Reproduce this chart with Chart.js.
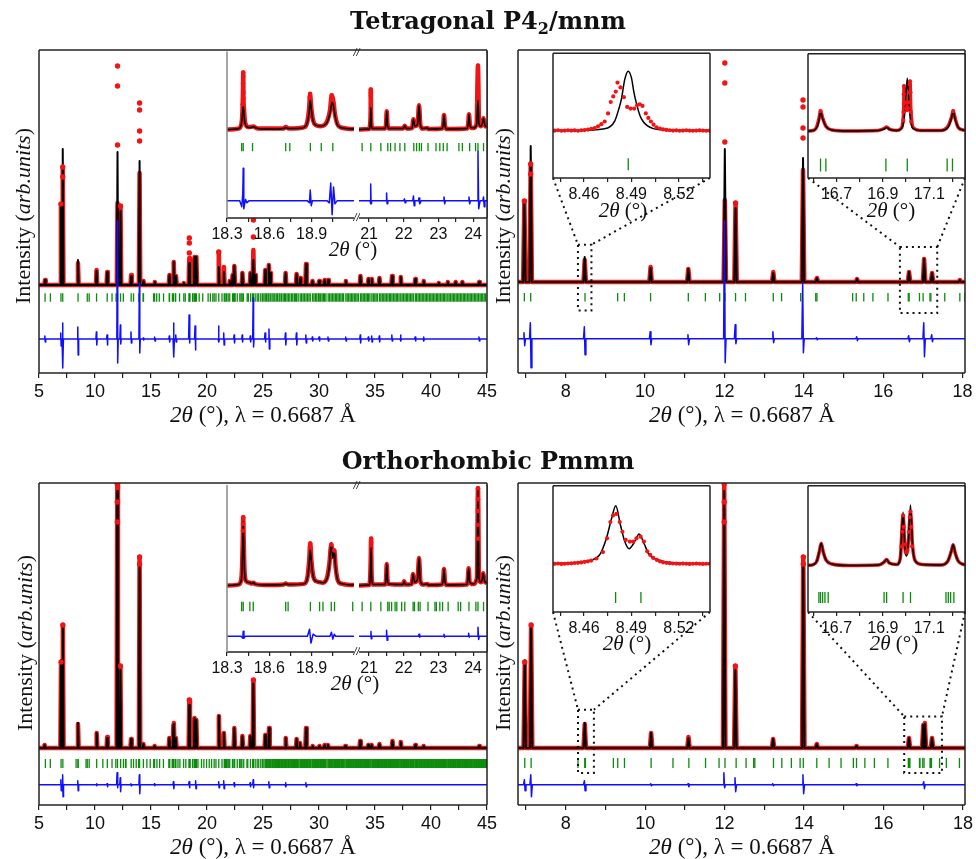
<!DOCTYPE html>
<html>
<head>
<meta charset="utf-8">
<script src="https://cdn.jsdelivr.net/npm/chart.js@4.4.1/dist/chart.umd.min.js"></script>
<style>
  body { margin: 0; background: #fff; }
  #fig { position: relative; width: 976px; height: 859px; overflow: hidden; background: #fff; font-family: "Liberation Serif", serif; color: #111; }
  #fig canvas { position: absolute; }
  .lbl { position: absolute; white-space: nowrap; transform: translate(-50%, -50%); line-height: 1; }
  .ttl { font-family: "DejaVu Serif", serif; font-weight: bold; font-size: 24px; }
  .ax { font-size: 23px; }
  .ay { font-size: 22px; }
  .axs { font-size: 21px; }
  .rot { transform: translate(-50%, -50%) rotate(-90deg); }
</style>
</head>
<body>
<div id="fig"></div>
<script>
// ---------- data (intensity in arb. units) ----------
// peaks: [2theta, calculated height, observed height]
const tetraPeaks = [
  [5.54,5,5],[6.96,80,81],[7.12,136,118],[8.48,25,22],[10.14,14,15],[11.09,13,13],
  [12.01,133,82],[12.28,74,79],[13.23,9,10],[13.98,124,112],[14.33,4,4],[15.34,3,3],
  [16.65,10,10],[17.03,23,23],[17.23,9,9],[17.93,2,2],[18.42,22,27],[18.89,28,28],
  [19.05,28,28],[21.05,18,33],[21.51,13,18],[22.03,4,4],[22.29,10,10],[22.44,19,19],
  [23.16,12,12],[23.88,12,12],[24.14,25,35],[24.30,10,10],[25.20,15,15],[25.52,20,20],
  [25.65,12,12],[27.02,12,12],[28.00,11,11],[28.32,7,7],[28.84,21,21],[29.42,4,4],
  [30.02,4,4],[30.50,5,5],[30.82,5,5],[32.40,4,4],[33.70,9,9],[34.42,6,6],[34.72,6,6],
  [35.40,7,7],[36.52,9,9],[37.30,8,8],[38.60,6,6],[39.35,4,4],[40.70,2,2],[41.50,3,3],
  [42.20,3,3],[42.80,3,3],[44.30,3,3]
];
const tetraDots = [
  [6.96,81],[7.12,118],[7.12,108],[12.01,140],[12.01,199],[12.01,219],[12.28,79],
  [13.98,144],[13.98,154],[13.98,175],[13.98,182],[18.42,32],[18.42,42],[18.42,47],
  [21.05,33],[24.14,48],[24.14,65]
];
// difference: [2theta, up, down]
const tetraDiff = [
  [5.54,3,3],[6.96,6,7],[7.12,16,29],[8.48,12,16],[10.14,7,6],[11.09,4,6],[12.01,118,24],
  [12.28,14,5],[13.23,7,4],[13.98,56,14],[14.33,1,1],[15.34,2,2],[16.65,3,3],[17.03,16,18],
  [17.23,4,3],[18.42,24,4],[18.95,13,11],[21.05,13,3],[21.51,6,6],[22.44,4,4],[23.16,4,3],
  [23.88,3,3],[24.14,41,8],[25.20,6,3],[25.55,10,10],[27.02,6,6],[28.00,6,6],[28.84,4,4],
  [29.42,2,2],[30.02,2,2],[30.82,2,2],[32.40,2,2],[33.70,4,4],[34.42,2,2],[34.72,3,3],
  [35.40,3,3],[36.52,4,2],[37.30,4,2],[38.60,2,2],[39.35,2,2],[44.30,2,2]
];
const orthoPeaks = [
  [5.50,3,3],[6.97,88,86],[7.13,122,123],[8.48,25,24],[10.15,15,15],[11.09,10,11],
  [11.99,257,264],[12.27,78,82],[13.22,9,9],[13.98,183,191],[14.32,4,4],[15.32,2,2],
  [16.64,10,10],[17.00,23,23],[17.04,24,25],[17.22,10,10],[18.42,43,48],[18.89,30,30],
  [19.05,28,28],[21.06,32,32],[21.51,15,15],[22.44,20,20],[23.16,12,12],[23.87,12,12],
  [24.14,65,68],[25.20,13,13],[25.54,20,20],[27.03,10,10],[28.00,9,9],[28.30,5,5],
  [28.84,20,20],[29.44,2,2],[30.04,2,2],[30.50,3,3],[30.80,3,3],[32.35,2,2],[33.67,7,7],
  [34.40,3,3],[34.70,3,3],[35.40,4,4],[36.56,7,7],[37.30,6,6],[38.60,3,3],[39.34,2,2],
  [44.30,2,2]
];
const orthoDots = [
  [6.97,86],[7.13,123],[11.99,264],[11.99,246],[11.99,226],[12.27,82],[13.98,191],
  [13.98,184],[18.42,48],[24.14,68]
];
const orthoDiff = [
  [6.97,5,6],[7.13,10,12],[8.48,4,6],[10.15,1,1],[11.09,1,2],[11.99,12,3],[12.27,7,7],
  [13.22,1,1],[13.98,10,9],[15.32,1,1],[17.02,3,4],[18.42,3,3],[19.00,4,4],[21.06,3,3],
  [21.51,4,4],[22.44,2,2],[23.87,2,2],[24.14,5,3],[25.54,3,3],[27.03,2,2],[28.84,2,2]
];

// reflection markers (2theta)
const tetraTicksLow = [5.54,6.02,6.96,7.12,8.488,9.31,9.48,10.14,11.09,11.52,11.88,12.01,12.28,12.53,
  13.23,13.44,13.92,14.30,14.33,15.23,15.32,15.51,15.74,16.12,16.631,16.654,16.913,17.005,17.177,
  17.200,17.55,17.93,18.06];
const tetraTicksMid = [18.404,18.415,18.481,18.716,18.745,18.891,18.968,19.05,19.30,19.62,20.10,20.30,
  20.52,20.64,20.80,21.05,21.34,21.54,21.62,21.75,21.89,22.03,22.29,22.37,22.45,22.51,22.70,22.93,
  23.04,23.14,23.25,23.59,23.69,23.90,24.07,24.14,24.30,24.48,24.62,24.80,24.95,25.08];
const tetraTicksHigh = [25.20,25.32,25.45,25.52,25.65,25.80,25.91,26.05,26.18,26.30,26.44,26.52,26.66,
  26.80,26.93,27.02,27.15,27.28,27.40,27.55,27.66,27.80,27.92,28.00,28.14,28.32,28.45,28.58,28.70,
  28.84,28.96,29.10,29.22,29.42,29.55,29.68,29.80,29.94,30.02,30.15,30.28,30.40,30.50,30.62,30.82,
  30.95,31.08,31.20,31.33,31.46,31.58,31.70,31.82,31.95,32.08,32.20,32.40,32.52,32.65,32.78,32.90,
  33.02,33.15,33.28,33.40,33.52,33.70,33.82,33.95,34.08,34.20,34.32,34.42,34.55,34.72,34.85,34.98,
  35.10,35.22,35.40,35.52,35.65,35.78,35.90,36.02,36.15,36.28,36.40,36.52,36.65,36.78,36.90,37.02,
  37.15,37.30,37.42,37.55,37.68,37.80,37.92,38.05,38.18,38.30,38.42,38.60,38.72,38.85,38.98,39.10,
  39.22,39.35,39.48,39.60,39.72,39.85,39.98,40.10,40.22,40.35,40.48,40.60,40.72,40.85,40.98,41.10,
  41.22,41.35,41.50,41.62,41.75,41.88,42.00,42.12,42.25,42.38,42.50,42.62,42.75,42.88,43.00,43.12,
  43.25,43.38,43.50,43.62,43.75,43.88,44.00,44.12,44.25,44.38,44.50,44.62,44.75,44.88];
const orthoTicksLow = [5.57,6.01,6.97,7.13,8.31,8.480,8.496,9.20,9.31,9.48,10.15,10.70,11.10,11.52,
  11.86,12.01,12.29,12.54,12.73,12.76,13.23,13.44,13.68,13.90,13.98,14.32,14.63,14.93,15.24,15.32,
  15.53,15.77,16.11,16.624,16.631,16.640,16.650,16.664,16.905,16.916,16.987,17.019,17.172,17.182,
  17.192,17.206,17.41,17.58,17.91,18.11];
const orthoTicksMid = [18.404,18.415,18.462,18.486,18.716,18.733,18.891,18.956,18.980,19.039,19.062,
  19.191,19.51,19.72,19.96,20.20,20.41,20.64,20.80,21.05,21.34,21.54,21.58,21.65,21.75,21.80,21.94,
  22.03,22.27,22.31,22.42,22.47,22.70,22.90,22.94,23.04,23.12,23.28,23.57,23.64,23.88,24.08,24.14,
  24.30,24.48,24.62,24.80,24.95,25.08];
const orthoTicksExtra = [25.26,25.38,25.58,25.72,25.86,25.98,26.12,26.24,26.37,26.48,26.59,26.73,26.87,
  26.98,27.08,27.22,27.34,27.48,27.60,27.73,27.86,27.96,28.07,28.22,28.38,28.52,28.64,28.77,28.90,
  29.03,29.16,29.30,29.48,29.62,29.74,29.87,30.08,30.22,30.34,30.45,30.56,30.72,30.88,31.02,31.14,
  31.26,31.40,31.52,31.64,31.76,31.88,32.02,32.14,32.30,32.46,32.58,32.72,32.84,32.96,33.08,33.22,
  33.34,33.46,33.60,33.76,33.88,34.02,34.14,34.26,34.37,34.48,34.62,34.78,34.92,35.04,35.16,35.30,
  35.46,35.58,35.72,35.84,35.96,36.08,36.22,36.34,36.46,36.58,36.72,36.84,36.96,37.08,37.22,37.36,
  37.48,37.62,37.74,37.86,37.98,38.12,38.24,38.36,38.50,38.66,38.78,38.92,39.04,39.16,39.28,39.42,
  39.54,39.66,39.78,39.92,40.04,40.16,40.28,40.42,40.54,40.66,40.78,40.92,41.04,41.16,41.28,41.42,
  41.56,41.68,41.82,41.94,42.06,42.18,42.32,42.44,42.56,42.68,42.82,42.94,43.06,43.18,43.32,43.44,
  43.56,43.68,43.82,43.94,44.06,44.18,44.32,44.44,44.56,44.68,44.82,44.94];

// inset profiles [2theta, intensity]
const tetraInL_calc = [[18.30,0.5],[18.36,1],[18.39,2],[18.40,5],[18.407,11],[18.412,20],[18.415,24],[18.419,19],
  [18.424,10],[18.432,5],[18.445,3],[18.47,2.5],[18.486,3.5],[18.50,2.5],[18.55,1],[18.65,1],[18.70,1.5],
  [18.716,2.5],[18.735,1.5],[18.80,1.5],[18.85,3],[18.87,8],[18.882,18],[18.89,30],[18.898,20],[18.91,9],
  [18.93,5],[18.96,4],[18.99,5],[19.01,8],[19.03,17],[19.045,28],[19.055,24],[19.065,15],[19.08,6],
  [19.10,3],[19.15,1.5],[19.2,1]];
const tetraInL_obs = [[18.30,0.5],[18.38,1.5],[18.40,5],[18.407,12],[18.411,26],[18.413,38],[18.415,58],
  [18.417,32],[18.421,20],[18.427,9],[18.435,5],[18.45,3],[18.486,3.5],[18.52,1.5],[18.70,1.5],[18.716,3],
  [18.74,1.5],[18.85,3],[18.87,9],[18.882,22],[18.889,36],[18.896,24],[18.91,10],[18.93,5],[18.96,4],
  [18.99,5],[19.01,9],[19.03,20],[19.042,35],[19.055,28],[19.065,16],[19.08,7],[19.10,3],[19.2,1]];
const tetraInL_dots = [[18.415,58],[18.415,54],[18.414,47],[18.416,38],[18.416,32],[18.412,26],
  [18.889,36.6],[18.887,33],[19.042,35],[19.046,31]];
const tetraInL_diff = [[18.3,0],[18.39,0],[18.405,-6],[18.412,8],[18.415,33],[18.419,-8],[18.425,-3],
  [18.432,1.5],[18.44,-2],[18.455,0],[18.87,0],[18.884,-2],[18.89,11],[18.897,-5],[18.905,0],[19.01,0],
  [19.025,-2],[19.035,18],[19.045,-14],[19.055,14],[19.065,-3],[19.08,0],[19.2,0]];
const tetraInR_calc = [[20.70,0.5],[21.0,1],[21.03,5],[21.045,14],[21.05,22.6],[21.058,12],[21.07,4],
  [21.1,1.5],[21.45,1.5],[21.49,6],[21.51,19],[21.53,6],[21.57,1.5],[21.98,1.5],[22.03,4.3],[22.08,1.5],
  [22.24,2],[22.28,11],[22.32,4],[22.40,6],[22.44,25],[22.48,5],[22.55,1.5],[22.68,2],[22.72,1],[23.1,1.5],
  [23.14,6],[23.16,15.3],[23.19,4],[23.25,1],[23.82,1.5],[23.86,7],[23.88,16],[23.91,4],[24.0,2],
  [24.1,5],[24.14,30],[24.17,6],[24.22,4],[24.26,6],[24.30,12],[24.34,5],[24.4,3]];
const tetraInR_obs = [[20.70,0.5],[21.0,1],[21.03,6],[21.045,20],[21.05,41],[21.056,20],[21.07,5],
  [21.1,1.5],[21.45,1.5],[21.49,6],[21.51,19],[21.53,6],[21.57,1.5],[21.98,1.5],[22.03,4.3],[22.08,1.5],
  [22.24,2],[22.28,11],[22.32,4],[22.40,6],[22.44,25],[22.48,5],[22.55,1.5],[22.68,2],[22.72,1],[23.1,1.5],
  [23.14,6],[23.16,15.3],[23.19,4],[23.25,1],[23.82,1.5],[23.86,7],[23.88,16],[23.91,4],[24.0,2],
  [24.1,6],[24.14,65],[24.17,8],[24.22,4],[24.26,6],[24.30,12],[24.34,5],[24.4,3]];
const tetraInR_dots = [[21.05,41],[21.05,38],[21.05,35],[24.14,65],[24.14,44],[24.14,40]];
const tetraInR_diff = [[20.7,0],[21.03,0],[21.045,-3],[21.05,17],[21.058,-3],[21.07,0],[21.49,0],
  [21.505,8],[21.52,-3],[21.54,0],[22.0,0],[22.02,2],[22.04,-2],[22.06,0],[22.26,0],[22.28,5],
  [22.30,-5],[22.32,0],[22.42,0],[22.44,3],[22.46,-3],[22.5,0],[23.14,0],[23.16,4],[23.18,-3],[23.2,0],
  [23.86,0],[23.88,4],[23.9,-3],[23.92,0],[24.12,0],[24.14,50],[24.16,-8],[24.2,0],[24.28,0],[24.30,4],
  [24.32,-6],[24.34,0],[24.4,0]];

const orthoInL_calc = [[18.30,0.5],[18.38,1.5],[18.40,5],[18.407,18],[18.412,45],[18.415,65.7],[18.419,40],
  [18.424,15],[18.432,6],[18.445,4],[18.462,3.5],[18.475,2.5],[18.486,3.5],[18.50,2],[18.6,1],[18.70,1.5],
  [18.716,2.5],[18.735,1.5],[18.85,2.5],[18.87,8],[18.882,22],[18.89,37.3],[18.898,24],[18.91,10],
  [18.93,5],[18.98,3.5],[19.01,8],[19.025,20],[19.039,44],[19.05,28],[19.06,37],[19.07,18],[19.085,6],
  [19.11,2.5],[19.2,1]];
const orthoInL_obs = [[18.30,0.5],[18.38,1.5],[18.40,6],[18.407,20],[18.412,50],[18.415,69.7],[18.419,42],
  [18.424,16],[18.432,6],[18.445,4],[18.462,3.5],[18.475,2.5],[18.486,3.5],[18.50,2],[18.6,1],[18.70,1.5],
  [18.716,2.5],[18.735,1.5],[18.85,2.5],[18.87,9],[18.882,25],[18.89,43],[18.898,26],[18.91,11],
  [18.93,5],[18.98,3.5],[19.01,9],[19.025,22],[19.039,42],[19.05,30],[19.06,36],[19.07,19],[19.085,6],
  [19.11,2.5],[19.2,1]];
const orthoInL_dots = [[18.415,69.7],[18.414,63],[18.413,56],[18.89,43],[18.889,39],[19.039,42],[19.06,36]];
const orthoInL_diff = [[18.3,0],[18.40,0],[18.412,-2],[18.415,5],[18.42,-2],[18.43,0],[18.87,0],
  [18.885,7],[18.895,-7],[18.91,2],[18.93,0],[19.03,0],[19.04,4],[19.05,-3],[19.06,2],[19.07,0],[19.2,0]];
const orthoInR_calc = [[20.7,0.5],[21.0,1],[21.03,6],[21.045,20],[21.06,39],[21.07,15],[21.09,4],
  [21.12,1.5],[21.45,1.5],[21.49,7],[21.51,22.3],[21.53,7],[21.57,2],[21.98,1.5],[22.01,5],[22.05,1.5],
  [22.23,2],[22.27,12.3],[22.31,4],[22.40,7],[22.44,28.3],[22.48,5],[22.55,1.5],[22.68,2],[22.72,1],
  [23.1,1.5],[23.14,7],[23.16,17.3],[23.19,4],[23.25,1],[23.82,1.5],[23.85,8],[23.87,18],[23.90,4],
  [24.0,2],[24.11,8],[24.14,99],[24.17,8],[24.22,4],[24.26,6],[24.29,13],[24.33,5],[24.4,3]];
const orthoInR_obs = [[20.7,0.5],[21.0,1],[21.03,7],[21.045,24],[21.06,48],[21.07,17],[21.09,4],
  [21.12,1.5],[21.45,1.5],[21.49,7],[21.51,22.3],[21.53,7],[21.57,2],[21.98,1.5],[22.01,5],[22.05,1.5],
  [22.23,2],[22.27,12.3],[22.31,4],[22.40,7],[22.44,28.3],[22.48,5],[22.55,1.5],[22.68,2],[22.72,1],
  [23.1,1.5],[23.14,7],[23.16,17.3],[23.19,4],[23.25,1],[23.82,1.5],[23.85,8],[23.87,18],[23.90,4],
  [24.0,2],[24.11,8],[24.14,99],[24.17,8],[24.22,4],[24.26,6],[24.29,13],[24.33,5],[24.4,3]];
const orthoInR_dots = [[21.06,48],[21.06,44],[24.14,99],[24.14,88],[24.14,76],[24.14,62],[24.14,48]];
const orthoInR_diff = [[20.7,0],[21.04,0],[21.055,4.7],[21.065,-2.7],[21.08,0],[21.49,0],[21.505,6],
  [21.52,-4],[21.54,0],[22.42,0],[22.44,2],[22.46,-1],[22.48,0],[23.14,0],[23.16,2],[23.18,-1],[23.2,0],
  [23.86,0],[23.87,3],[23.89,-1],[23.91,0],[24.12,0],[24.14,9],[24.16,-3.3],[24.18,0],[24.4,0]];

// zoom insets around 8.49 and 17.0
const tetraZoomA_calc = [[8.4404,0],[8.465,0.5],[8.472,1.5],[8.4765,4],[8.4795,10],[8.482,22],[8.4837,32.6],
  [8.4858,52.6],[8.4879,61],[8.4900,54.3],[8.4915,40],[8.4932,27.6],[8.4955,15],[8.4974,9.3],[8.500,5],
  [8.5038,2],[8.51,0.8],[8.5397,0]];
const tetraZoomA_obs = [[8.4415,0],[8.4436,0.3],[8.4457,-0.2],[8.4478,0],[8.4499,0.3],[8.452,0],[8.4541,0.2],
  [8.4562,-0.2],[8.4583,0.3],[8.4604,0.5],[8.4625,1],[8.4646,1.8],[8.4668,2.5],[8.4689,4.3],[8.471,6.6],
  [8.4731,9.3],[8.4752,17.6],[8.4769,29.3],[8.4785,35],[8.4801,40],[8.4812,49.3],[8.4831,44.3],
  [8.4852,34.3],[8.4873,24.3],[8.4894,22.6],[8.4917,22.6],[8.4936,26],[8.4953,27],[8.497,25.3],
  [8.4991,17.6],[8.5007,13],[8.5023,9.3],[8.504,6],[8.5059,3.3],[8.508,2],[8.510,1.2],[8.5121,0.6],
  [8.5142,0.3],[8.5163,0],[8.5184,0.2],[8.5205,-0.2],[8.5226,0],[8.5247,0.3],[8.5268,0],[8.5289,-0.2],
  [8.531,0],[8.5331,0.2],[8.5352,0],[8.5373,-0.2],[8.5394,0]];
const tetraZoomB_calc = [[16.577,0.5],[16.60,1],[16.615,4],[16.625,12],[16.631,20.7],[16.64,13],[16.655,5],
  [16.68,1.5],[16.75,0.5],[16.88,1],[16.905,2.5],[16.916,4],[16.93,2],[16.96,1],[16.98,3],[16.99,10],
  [16.998,30],[17.005,55],[17.012,30],[17.02,10],[17.03,3],[17.06,1],[17.15,1],[17.18,4],[17.195,13],
  [17.203,20.7],[17.212,12],[17.225,4],[17.254,1]];
const tetraZoomB_obs = [[16.577,0.5],[16.60,1],[16.615,5],[16.625,14],[16.631,21],[16.64,14],[16.655,5],
  [16.68,1.5],[16.75,0.5],[16.88,1],[16.905,3],[16.916,4.5],[16.93,2],[16.96,1],[16.978,3],[16.985,8],
  [16.99,28],[16.991,46.7],[16.995,32],[17.0,23],[17.005,22],[17.01,28],[17.014,42],[17.017,51.7],
  [17.02,25],[17.025,9],[17.035,3],[17.06,1],[17.15,1],[17.18,5],[17.195,14],[17.203,21],[17.212,13],
  [17.225,4],[17.254,1]];
const tetraZoomB_dots = [[16.988,11.7],[16.989,20],[16.99,28.3],[16.99,38.3],[16.991,46.7],[16.996,30],
  [17.0,24],[17.004,22],[17.008,24],[17.012,30],[17.014,40],[17.016,48.3],[17.017,51.7],[17.019,40],
  [17.02,20],[17.022,10],[16.631,21],[17.203,21]];
const orthoZoomA_calc = [[8.4404,0],[8.453,1],[8.4636,3.3],[8.470,9.3],[8.4742,26],[8.4774,46],[8.4801,59.4],
  [8.4831,39.4],[8.4858,22.7],[8.4885,15.4],[8.4915,21],[8.4949,30.4],[8.4979,21],[8.5012,9.3],
  [8.5059,4.4],[8.5164,1],[8.5397,0]];
const orthoZoomA_obs = [[8.4415,0],[8.4436,0.3],[8.4457,-0.2],[8.4478,0],[8.4499,0.3],[8.452,0.5],
  [8.4541,0.8],[8.4562,1],[8.4583,1.4],[8.4604,2],[8.4625,2.5],[8.4646,3.3],[8.4679,5.4],[8.472,12],
  [8.4746,26],[8.4767,42.7],[8.4784,49.4],[8.4805,51],[8.4826,42.7],[8.4843,32.7],[8.4864,24.4],
  [8.489,22.7],[8.4911,22.7],[8.4932,26],[8.4958,27.7],[8.4979,22.7],[8.5,12.7],[8.5019,9],[8.5038,6],
  [8.506,4],[8.508,2.5],[8.510,1.5],[8.5121,1],[8.5142,0.6],[8.5163,0.3],[8.5184,0.2],[8.5205,0],
  [8.5226,0.2],[8.5247,0],[8.5268,-0.2],[8.5289,0],[8.531,0.2],[8.5331,0],[8.5352,-0.2],[8.5373,0],
  [8.5394,0]];
const orthoZoomB_calc = [[16.577,0.5],[16.60,1.5],[16.615,5],[16.625,14],[16.634,23.3],[16.643,14],
  [16.655,6],[16.68,2],[16.75,0.5],[16.88,1],[16.905,4],[16.916,6.7],[16.928,3],[16.96,1.5],[16.975,8],
  [16.987,55],[16.995,18],[17.002,10],[17.01,25],[17.019,62.3],[17.028,20],[17.04,5],[17.07,1.5],
  [17.15,1],[17.18,5],[17.195,15],[17.203,21.7],[17.212,13],[17.225,5],[17.254,1]];
const orthoZoomB_obs = [[16.577,0.5],[16.60,1.5],[16.615,5],[16.625,14],[16.634,23.3],[16.643,14],
  [16.655,6],[16.68,2],[16.75,0.5],[16.88,1],[16.905,4],[16.916,6.7],[16.928,3],[16.96,1.5],[16.975,8],
  [16.987,51.7],[16.995,18],[17.002,12],[17.01,25],[17.019,55.7],[17.028,20],[17.04,5],[17.07,1.5],
  [17.15,1],[17.18,5],[17.195,15],[17.203,21.7],[17.212,13],[17.225,5],[17.254,1]];
const orthoZoomB_dots = [[16.98,20],[16.984,35],[16.987,51.7],[16.99,40],[16.995,22],[17.0,14],
  [17.005,16],[17.012,35],[17.016,50],[17.019,55.7],[17.022,40],[17.026,20]];

// axis tick values
const wideMajor = [5,10,15,20,25,30,35,40,45];
const wideMinor = [7.5,12.5,17.5,22.5,27.5,32.5,37.5,42.5];
const narrowMajor = [8,10,12,14,16,18];
const narrowMinor = [7,9,11,13,15,17];
const brkLMajor = [18.3,18.6,18.9];
const brkLMinor = [18.45,18.75,19.05];
const brkRMajor = [21,22,23,24];
const brkRMinor = [21.5,22.5,23.5];
const zoomAMajor = [8.46,8.49,8.52];
const zoomAMinor = [8.445,8.475,8.505,8.535];
const zoomBMajor = [16.7,16.9,17.1];
const zoomBMinor = [16.6,16.8,17.0,17.2];

// ---------- drawing ----------
const RED = '#f01414', INK = '#111', BLUE = '#1010ff', GREEN = '#0c8c0c';
const SANS = "'Liberation Sans Narrow','Liberation Sans',Arial,sans-serif";
const fig = document.getElementById('fig');

function peakPath(peaks, col, d, x0, x1) {
  const pts = [{x: x0, y: 0}];
  peaks.forEach(p => pts.push({x: p[0] - d, y: 0}, {x: p[0], y: p[col]}, {x: p[0] + d, y: 0}));
  pts.push({x: x1, y: 0});
  return pts;
}
function diffPath(diff, d, base, x0, x1) {
  const pts = [{x: x0, y: base}];
  diff.forEach(p => pts.push({x: p[0] - d, y: base}, {x: p[0] - d * 0.3, y: base + p[1]},
    {x: p[0] + d * 0.3, y: base - p[2]}, {x: p[0] + d, y: base}));
  pts.push({x: x1, y: base});
  return pts;
}
const xy = (arr, off = 0) => arr.map(p => ({x: p[0], y: p[1] + off}));
const at = (arr, y) => arr.map(x => ({x, y}));

function lineDs(data, color, width, order, smooth) {
  return {data, showLine: true, borderColor: color, borderWidth: width, pointRadius: 0, order,
    borderJoinStyle: 'round', cubicInterpolationMode: smooth ? 'monotone' : 'default'};
}
function dotDs(data, r, order) {
  return {data, showLine: false, pointRadius: r, pointBackgroundColor: RED, pointBorderWidth: 0, order};
}
function tickDs(data, r, order) {
  return {data, showLine: false, pointStyle: 'line', pointRotation: 90, pointRadius: r,
    pointBorderColor: GREEN, pointBorderWidth: 1.3, order};
}

const framePlugin = {
  id: 'frame',
  beforeDraw(chart, _a, o) {
    if (!o.bg) return;
    const c = chart.chartArea, ctx = chart.ctx;
    ctx.save();
    ctx.fillStyle = o.bg;
    ctx.fillRect(c.left + 1, c.top + 1, c.width - 1 + (o.ext || 0), c.height - 1);
    ctx.restore();
  },
  afterDraw(chart, _a, o) {
    const c = chart.chartArea, ctx = chart.ctx, s = o.sides || 'ltrb';
    ctx.save();
    ctx.lineWidth = o.width || 1.5;
    const seg = (x0, y0, x1, y1, col) => {
      ctx.beginPath(); ctx.strokeStyle = col || o.color || '#222';
      ctx.moveTo(x0, y0); ctx.lineTo(x1, y1); ctx.stroke();
    };
    if (s.includes('t')) seg(c.left, c.top, c.right, c.top);
    if (s.includes('b')) seg(c.left, c.bottom, c.right, c.bottom);
    if (s.includes('r')) seg(c.right, c.top, c.right, c.bottom);
    if (s.includes('l')) seg(c.left, c.top, c.left, c.bottom, o.leftColor);
    if (o.brk) {
      ctx.fillStyle = '#222';
      ctx.font = 'italic 11px ' + SANS;
      ctx.textAlign = 'center';
      ctx.textBaseline = 'middle';
      ctx.fillText('//', c.right + 2.5, c.bottom);
      ctx.fillText('//', c.right + 2.5, c.top + 1);
    }
    ctx.restore();
  }
};

const guidePlugin = {
  id: 'guides',
  afterDatasetsDraw(chart, _a, o) {
    if (!o.boxes) return;
    const ctx = chart.ctx, xs = chart.scales.x, ys = chart.scales.y;
    const offX = parseFloat(chart.canvas.style.left), offY = parseFloat(chart.canvas.style.top);
    ctx.save();
    ctx.setLineDash([2, 4]);
    ctx.lineWidth = 2;
    ctx.strokeStyle = INK;
    o.boxes.forEach(b => {
      const x0 = xs.getPixelForValue(b.x[0]), x1 = xs.getPixelForValue(b.x[1]);
      const y0 = ys.getPixelForValue(b.y[1]), y1 = ys.getPixelForValue(b.y[0]);
      ctx.strokeRect(x0, y0, x1 - x0, y1 - y0);
      const r = b.to;
      ctx.beginPath();
      ctx.moveTo(r.x - offX, r.y + r.h - offY); ctx.lineTo(x0, y0);
      ctx.moveTo(r.x + r.w - offX, r.y + r.h - offY); ctx.lineTo(x1, y0);
      ctx.stroke();
    });
    ctx.restore();
  }
};

function plot(rect, pad, cfg) {
  const cv = document.createElement('canvas');
  const W = rect.w + pad[0] + pad[1], H = rect.h + pad[2] + pad[3];
  cv.width = W; cv.height = H;
  Object.assign(cv.style, {left: (rect.x - pad[0]) + 'px', top: (rect.y - pad[2]) + 'px',
    width: W + 'px', height: H + 'px'});
  fig.appendChild(cv);
  const major = cfg.major, all = [...major, ...cfg.minor].sort((a, b) => a - b);
  return new Chart(cv, {
    type: 'scatter',
    data: {datasets: cfg.datasets},
    options: {
      responsive: false, animation: false, events: [],
      layout: {padding: {left: pad[0], right: pad[1], top: pad[2], bottom: 0}},
      plugins: {legend: {display: false}, tooltip: {enabled: false},
        frame: cfg.frame || {}, guides: cfg.guides || {}},
      scales: {
        x: {
          type: 'linear', min: cfg.x[0], max: cfg.x[1],
          afterFit: s => { s.height = pad[3]; },
          afterBuildTicks: s => { s.ticks = all.map(v => ({value: v})); },
          ticks: {autoSkip: false, maxRotation: 0, minRotation: 0, padding: cfg.tpad || 3, color: '#111',
            font: {family: SANS, size: cfg.fs}, callback: v => major.includes(v) ? String(v) : ''},
          grid: {drawOnChartArea: false, tickLength: cfg.tl || 5, color: '#222', lineWidth: 1.2},
          border: {display: false}
        },
        y: {display: false, min: cfg.y[0], max: cfg.y[1]}
      }
    },
    plugins: [framePlugin, guidePlugin]
  });
}

function mainSets(peaks, dots, diff, ticks, d, xr, tickY, tickR, diffBase) {
  return [
    lineDs(peakPath(peaks, 2, d, xr[0] - 1, xr[1] + 1), RED, 4.5, 6),
    lineDs(peakPath(peaks, 1, d, xr[0] - 1, xr[1] + 1), '#000', 2, 5),
    dotDs(xy(dots), 2.7, 4),
    tickDs(at(ticks, tickY), tickR, 3),
    lineDs(diffPath(diff, d, diffBase, xr[0] - 1, xr[1] + 1), BLUE, 1.5, 2)
  ];
}
function insetSets(calc, obs, dots, diff, ticks, tickY, tickR, diffBase) {
  const s = [
    lineDs(xy(obs), RED, 4.5, 6, true),
    lineDs(xy(calc), '#000', 1.5, 5, true),
    dotDs(xy(dots), 2.3, 4),
    tickDs(at(ticks, tickY), tickR, 3)
  ];
  if (diff) s.push(lineDs(xy(diff, diffBase), BLUE, 1.5, 2));
  return s;
}
function zoomSets(calc, obs, dots, ticks, tickY, tickR, withLine) {
  const s = [];
  if (withLine) s.push(lineDs(xy(obs), RED, 3.5, 6, true));
  s.push(lineDs(xy(calc), '#000', 1.5, 5, true));
  s.push(dotDs(xy(withLine ? dots : obs), 2.1, 4));
  s.push(tickDs(at(ticks, tickY), tickR, 3));
  return s;
}

// panel rectangles (page pixels)
const R = {
  tl: {x: 39, y: 50, w: 448, h: 323}, tr: {x: 518, y: 50, w: 447, h: 323},
  bl: {x: 39, y: 483, w: 448, h: 322}, br: {x: 518, y: 483, w: 447, h: 322},
  tlL: {x: 227, y: 50, w: 127, h: 168}, tlR: {x: 359, y: 50, w: 128, h: 168},
  blL: {x: 227, y: 483, w: 127, h: 169}, blR: {x: 359, y: 483, w: 128, h: 169},
  trA: {x: 553, y: 50, w: 157, h: 128}, trB: {x: 808, y: 50, w: 157, h: 128},
  brA: {x: 553, y: 483, w: 157, h: 129}, brB: {x: 808, y: 483, w: 157, h: 129}
};
const PM = [28, 28, 12, 34], PI = [22, 22, 4, 26];

const tetraAll = [...tetraTicksLow, ...tetraTicksMid, ...tetraTicksHigh];
const orthoAll = [...orthoTicksLow, ...orthoTicksMid, ...tetraTicksHigh, ...orthoTicksExtra];

// main panels
plot(R.tl, PM, {x: [5, 45], y: [-88, 235], major: wideMajor, minor: wideMinor, fs: 18, tpad: 3,
  datasets: mainSets(tetraPeaks, tetraDots, tetraDiff, tetraAll, 0.06, [5, 45], -12.5, 4.2, -54)});
plot(R.tr, PM, {x: [6.8, 18.06], y: [-91, 232], major: narrowMajor, minor: narrowMinor, fs: 18, tpad: 3,
  datasets: mainSets(tetraPeaks, tetraDots, tetraDiff, tetraTicksLow, 0.03, [6.8, 18.06], -15.2, 4.2, -56.7),
  guides: {boxes: [{x: [8.31, 8.65], y: [-28.4, 37.3], to: R.trA}, {x: [16.42, 17.36], y: [-31, 35], to: R.trB}]}});
plot(R.bl, PM, {x: [5, 45], y: [-57, 265], major: wideMajor, minor: wideMinor, fs: 18, tpad: 3,
  datasets: mainSets(orthoPeaks, orthoDots, orthoDiff, orthoAll, 0.06, [5, 45], -15.5, 4.5, -36.7)});
plot(R.br, PM, {x: [6.8, 18.05], y: [-57, 265], major: narrowMajor, minor: narrowMinor, fs: 18, tpad: 3,
  datasets: mainSets(orthoPeaks, orthoDots, orthoDiff, orthoTicksLow, 0.03, [6.8, 18.05], -15, 5, -36.7),
  guides: {boxes: [{x: [8.31, 8.71], y: [-25, 38.3], to: R.brA}, {x: [16.52, 17.47], y: [-25, 31.6], to: R.brB}]}});

// broken-axis insets
plot(R.tlL, PI, {x: [18.3, 19.2], y: [-88.7, 79.3], major: brkLMajor, minor: brkLMinor, fs: 16, tl: 4,
  frame: {bg: '#fff', ext: 5, sides: 'lb', leftColor: '#888', brk: true},
  datasets: insetSets(tetraInL_calc, tetraInL_obs, tetraInL_dots, tetraInL_diff, tetraTicksMid, -17.2, 4.2, -71.4)});
plot(R.tlR, PI, {x: [20.71, 24.4], y: [-88.7, 79.3], major: brkRMajor, minor: brkRMinor, fs: 16, tl: 4,
  frame: {bg: '#fff', sides: 'br'},
  datasets: insetSets(tetraInR_calc, tetraInR_obs, tetraInR_dots, tetraInR_diff, tetraTicksMid, -17.2, 4.2, -71.4)});
plot(R.blL, PI, {x: [18.3, 19.2], y: [-66.7, 102.3], major: brkLMajor, minor: brkLMinor, fs: 16, tl: 4,
  frame: {bg: '#fff', ext: 5, sides: 'lb', leftColor: '#888', brk: true},
  datasets: insetSets(orthoInL_calc, orthoInL_obs, orthoInL_dots, orthoInL_diff, orthoTicksMid, -20.7, 4.7, -50.7)});
plot(R.blR, PI, {x: [20.71, 24.4], y: [-66.7, 102.3], major: brkRMajor, minor: brkRMinor, fs: 16, tl: 4,
  frame: {bg: '#fff', sides: 'br'},
  datasets: insetSets(orthoInR_calc, orthoInR_obs, orthoInR_dots, orthoInR_diff, orthoTicksMid, -20.7, 4.7, -50.7)});

// zoom insets
plot(R.trA, PI, {x: [8.4404, 8.5397], y: [-48.7, 79.3], major: zoomAMajor, minor: zoomAMinor, fs: 16, tl: 4,
  frame: {bg: '#fff', sides: 'ltrb'},
  datasets: zoomSets(tetraZoomA_calc, tetraZoomA_obs, null, tetraTicksLow, -34.7, 6, false)});
plot(R.trB, PI, {x: [16.577, 17.254], y: [-48, 80], major: zoomBMajor, minor: zoomBMinor, fs: 16, tl: 4,
  frame: {bg: '#fff', sides: 'ltrb'},
  datasets: zoomSets(tetraZoomB_calc, tetraZoomB_obs, tetraZoomB_dots, tetraTicksLow, -34.5, 6.5, true)});
plot(R.brA, PI, {x: [8.4404, 8.5397], y: [-49.3, 79.7], major: zoomAMajor, minor: zoomAMinor, fs: 16, tl: 4,
  frame: {bg: '#fff', sides: 'ltrb'},
  datasets: zoomSets(orthoZoomA_calc, orthoZoomA_obs, null, orthoTicksLow, -34.5, 5.5, false)});
plot(R.brB, PI, {x: [16.577, 17.254], y: [-47, 82], major: zoomBMajor, minor: zoomBMinor, fs: 16, tl: 4,
  frame: {bg: '#fff', sides: 'ltrb'},
  datasets: zoomSets(orthoZoomB_calc, orthoZoomB_obs, orthoZoomB_dots, orthoTicksLow, -32.2, 5.5, true)});

// text
function label(html, x, y, cls) {
  const d = document.createElement('div');
  d.className = 'lbl ' + cls;
  d.innerHTML = html;
  d.style.left = x + 'px';
  d.style.top = y + 'px';
  fig.appendChild(d);
}
const xTitle = '<i>2θ</i> (°), λ = 0.6687 Å';
const yTitle = 'Intensity (<i>arb.units</i>)';
const insetTitle = '<i>2θ</i> (°)';
label('Tetragonal P4<sub style="font-size:16px">2</sub>/mnm', 488, 23, 'ttl');
label('Orthorhombic Pmmm', 488, 461, 'ttl');
[[263, 414], [742, 414], [263, 846], [742, 846]].forEach(p => label(xTitle, p[0], p[1], 'ax'));
[[23, 216], [503, 216], [25, 643], [503, 643]].forEach(p => label(yTitle, p[0], p[1], 'ay rot'));
[[353, 249], [623, 210], [891, 210], [355, 683], [627, 643], [894, 643]].forEach(p => label(insetTitle, p[0], p[1], 'axs'));
</script>
</body>
</html>
